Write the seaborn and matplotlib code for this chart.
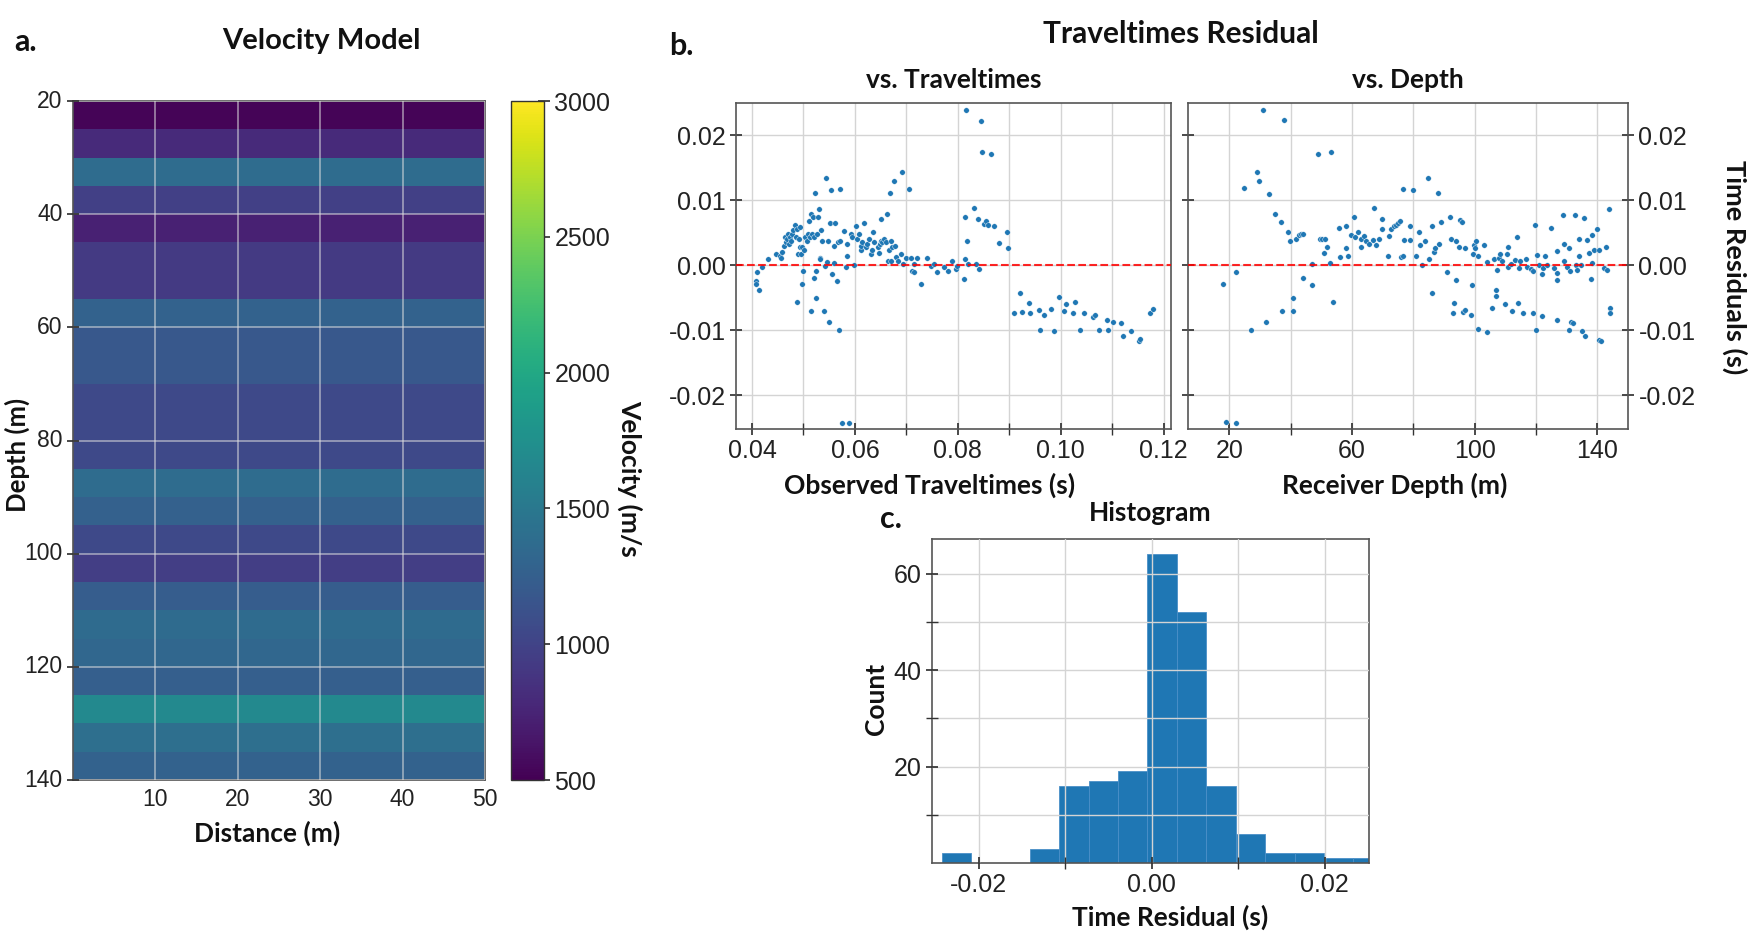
import numpy as np
import pandas as pd
import seaborn as sns
import matplotlib.pyplot as plt
from matplotlib.ticker import MultipleLocator, FixedLocator, FormatStrFormatter

# ---- velocity model: one value per 5 m layer (20-140 m), constant across distance
layer_top = list(range(20, 140, 5))
layer_vel = [520, 800, 1375, 975, 725, 925, 925, 1275, 1175, 1175, 1050, 1050,
             1050, 1375, 1262, 1050, 950, 1225, 1362, 1325, 1250, 1675, 1400, 1275]
dist_cols = [10, 20, 30, 40, 50]

# ---- residuals vs observed traveltimes
tt_obs = [0.0407, 0.0408, 0.0410, 0.0414, 0.0420, 0.0431, 0.0446, 0.0454, 0.0457, 0.0458,
          0.0462, 0.0465, 0.0467, 0.0468, 0.0470, 0.0471, 0.0473, 0.0475, 0.0478, 0.0480,
          0.0483, 0.0485, 0.0488, 0.0488, 0.0489, 0.0491, 0.0493, 0.0494, 0.0496, 0.0497,
          0.0497, 0.0499, 0.0501, 0.0504, 0.0507, 0.0508, 0.0510, 0.0512, 0.0514, 0.0515,
          0.0517, 0.0519, 0.0520, 0.0521, 0.0523, 0.0524, 0.0525, 0.0527, 0.0528, 0.0530,
          0.0532, 0.0533, 0.0534, 0.0536, 0.0540, 0.0542, 0.0544, 0.0546, 0.0548, 0.0549,
          0.0551, 0.0554, 0.0556, 0.0559, 0.0560, 0.0562, 0.0566, 0.0567, 0.0570, 0.0571,
          0.0572, 0.0575, 0.0579, 0.0582, 0.0584, 0.0585, 0.0588, 0.0592, 0.0595, 0.0598,
          0.0603, 0.0605, 0.0608, 0.0611, 0.0612, 0.0614, 0.0618, 0.0621, 0.0624, 0.0627,
          0.0631, 0.0634, 0.0636, 0.0637, 0.0644, 0.0647, 0.0649, 0.0650, 0.0651, 0.0653,
          0.0657, 0.0660, 0.0663, 0.0664, 0.0666, 0.0668, 0.0670, 0.0671, 0.0673, 0.0676,
          0.0677, 0.0679, 0.0683, 0.0689, 0.0692, 0.0694, 0.0699, 0.0705, 0.0708, 0.0710,
          0.0714, 0.0715, 0.0721, 0.0728, 0.0741, 0.0747, 0.0754, 0.0760, 0.0773, 0.0780,
          0.0788, 0.0796, 0.0799, 0.0812, 0.0813, 0.0814, 0.0816, 0.0818, 0.0819, 0.0832,
          0.0835, 0.0840, 0.0842, 0.0844, 0.0847, 0.0851, 0.0855, 0.0858, 0.0864, 0.0871,
          0.0879, 0.0896, 0.0897, 0.0910, 0.0920, 0.0924, 0.0939, 0.0941, 0.0958, 0.0960,
          0.0967, 0.0981, 0.0986, 0.0997, 0.1007, 0.1010, 0.1023, 0.1028, 0.1038, 0.1045,
          0.1062, 0.1066, 0.1075, 0.1090, 0.1092, 0.1101, 0.1116, 0.1121, 0.1136, 0.1151,
          0.1153, 0.1173, 0.1179]
tt_res = [-0.0024, -0.0029, -0.0011, -0.0038, -0.0002, 0.0010, 0.0018, 0.0015, 0.0012, 0.0020,
          0.0030, 0.0043, 0.0036, 0.0041, 0.0049, 0.0033, 0.0043, 0.0038, 0.0048, 0.0054,
          0.0062, 0.0044, 0.0056, -0.0056, 0.0018, 0.0041, 0.0028, 0.0059, 0.0018, -0.0029,
          0.0028, -0.0008, 0.0023, 0.0043, 0.0038, 0.0048, 0.0069, 0.0043, -0.0070, 0.0079,
          0.0049, 0.0074, 0.0043, -0.0019, 0.0111, -0.0050, -0.0008, 0.0049, 0.0074, 0.0087,
          0.0012, 0.0010, 0.0055, 0.0038, -0.0070, -0.0001, 0.0134, 0.0005, 0.0038, -0.0088,
          0.0065, 0.0116, -0.0013, 0.0030, 0.0003, 0.0065, -0.0024, 0.0036, -0.0100, 0.0117,
          0.0038, -0.0243, 0.0053, -0.0003, 0.0015, 0.0033, -0.0242, 0.0048, 0.0043, 0.0001,
          0.0060, 0.0041, 0.0048, 0.0023, 0.0030, 0.0036, 0.0065, 0.0028, 0.0033, 0.0041,
          0.0018, 0.0023, 0.0051, 0.0036, 0.0028, 0.0019, 0.0033, 0.0072, 0.0038, 0.0036,
          0.0041, 0.0036, 0.0079, 0.0007, 0.0023, 0.0111, 0.0038, 0.0007, 0.0028, 0.0130,
          0.0030, 0.0013, 0.0007, 0.0017, 0.0143, 0.0002, 0.0011, 0.0118, 0.0012, -0.0008,
          -0.0011, 0.0002, 0.0012, -0.0028, 0.0012, -0.0001, 0.0002, -0.0011, -0.0003, -0.0008,
          0.0007, -0.0006, -0.0001, -0.0021, 0.0010, 0.0075, 0.0239, 0.0037, 0.0002, 0.0089,
          0.0002, 0.0072, -0.0006, 0.0223, 0.0174, 0.0064, 0.0069, 0.0062, 0.0171, 0.0060,
          0.0034, 0.0051, 0.0027, -0.0074, -0.0042, -0.0072, -0.0058, -0.0073, -0.0068, -0.0099,
          -0.0076, -0.0067, -0.0101, -0.0048, -0.0071, -0.0060, -0.0073, -0.0057, -0.0100, -0.0073,
          -0.0080, -0.0077, -0.0100, -0.0084, -0.0099, -0.0088, -0.0089, -0.0109, -0.0101, -0.0116,
          -0.0114, -0.0073, -0.0067]

# ---- residuals vs receiver depth
rcv_depth = [17.8, 18.9, 22.0, 22.0, 24.9, 26.9, 28.9, 29.8, 30.9, 31.8, 32.9, 34.9, 36.9, 37.0,
             37.9, 39.0, 39.9, 40.7, 40.9, 41.8, 42.7, 43.5, 44.0, 44.0, 46.8, 47.1, 49.0, 49.7,
             50.3, 50.8, 51.2, 51.9, 52.7, 53.0, 53.8, 55.8, 56.0, 57.9, 58.0, 58.8, 59.8, 60.7,
             61.1, 61.9, 62.8, 63.0, 63.9, 64.7, 65.6, 66.7, 67.1, 67.8, 68.9, 69.8, 69.9, 71.8,
             72.2, 72.8, 73.7, 74.3, 75.1, 75.6, 76.0, 76.5, 76.7, 77.0, 78.9, 78.9, 79.8, 80.9,
             81.8, 82.0, 82.8, 83.9, 84.9, 85.0, 86.0, 86.0, 86.8, 87.1, 87.9, 88.5, 89.0, 90.9,
             91.8, 92.2, 92.9, 93.1, 93.8, 94.0, 94.9, 95.1, 95.9, 96.2, 96.9, 97.0, 98.9, 99.2,
             99.4, 99.9, 100.2, 100.5, 101.1, 101.1, 102.9, 104.0, 104.0, 105.8, 106.2, 106.9,
             107.1, 107.3, 107.8, 108.1, 109.0, 110.0, 110.6, 110.8, 111.0, 111.7, 112.2, 113.3,
             113.8, 114.1, 114.3, 114.9, 115.8, 116.7, 117.1, 118.4, 118.9, 119.1, 119.7, 119.9,
             120.4, 121.0, 121.9, 122.0, 122.3, 123.0, 123.7, 125.0, 125.8, 126.7, 126.7, 126.9,
             126.9, 128.9, 129.1, 129.1, 130.2, 130.7, 130.9, 131.1, 131.3, 131.9, 132.8, 133.0,
             133.5, 133.9, 134.1, 134.6, 135.0, 135.7, 136.0, 136.7, 137.3, 137.8, 138.1, 138.1,
             138.9, 140.0, 140.6, 140.7, 141.3, 142.2, 142.7, 143.3, 143.9, 144.2, 144.2]
depth_res = [-0.0028, -0.0241, -0.0011, -0.0243, 0.0119, -0.0100, 0.0144, 0.0130, 0.0239, -0.0088,
             0.0110, 0.0079, 0.0066, -0.0070, 0.0224, 0.0052, 0.0038, -0.0051, -0.0070, 0.0040,
             0.0047, 0.0048, 0.0049, -0.0019, -0.0030, 0.0002, 0.0172, 0.0040, 0.0040, 0.0019,
             0.0040, 0.0028, 0.0003, 0.0174, -0.0057, 0.0058, 0.0013, 0.0060, 0.0027, 0.0015,
             0.0047, 0.0075, 0.0043, 0.0051, 0.0028, 0.0041, 0.0045, 0.0038, 0.0033, 0.0039,
             0.0089, 0.0032, 0.0041, 0.0072, 0.0056, 0.0015, 0.0045, 0.0056, 0.0060, 0.0062,
             0.0065, 0.0068, 0.0013, 0.0118, 0.0014, 0.0039, 0.0039, 0.0061, 0.0116, 0.0014,
             0.0052, 0.0032, 0.0001, 0.0038, 0.0135, 0.0009, 0.0061, -0.0042, 0.0020, 0.0027,
             0.0111, 0.0033, 0.0066, -0.0011, 0.0075, 0.0041, -0.0074, -0.0058, 0.0038, -0.0023,
             0.0029, 0.0070, 0.0066, -0.0072, -0.0069, 0.0027, -0.0077, -0.0031, 0.0017, 0.0032,
             0.0027, 0.0038, -0.0098, 0.0015, 0.0032, -0.0102, 0.0005, -0.0066, 0.0009, -0.0038,
             -0.0047, -0.0007, 0.0012, 0.0017, 0.0006, -0.0060, 0.0017, 0.0029, -0.0003, 0.0002,
             -0.0071, 0.0008, 0.0043, -0.0058, -0.0004, 0.0006, -0.0074, 0.0010, -0.0002, -0.0005,
             -0.0073, -0.0008, 0.0062, -0.0100, 0.0016, 0.0001, -0.0078, -0.0013, -0.0004, 0.0015,
             0.0001, 0.0058, -0.0004, 0.0022, -0.0023, -0.0084, -0.0012, 0.0078, 0.0033, 0.0007,
             -0.0003, 0.0026, -0.0099, -0.0008, -0.0088, -0.0089, 0.0078, 0.0000, -0.0007, 0.0041,
             0.0014, 0.0000, -0.0101, 0.0073, -0.0109, 0.0039, 0.0019, -0.0021, 0.0047, 0.0003,
             0.0024, 0.0056, -0.0115, 0.0024, -0.0117, -0.0004, 0.0028, -0.0007, 0.0087, -0.0066,
             -0.0073]

# ---- histogram of residuals
hist_edges = [-0.0243, -0.0209, -0.0175, -0.0141, -0.0107, -0.0073, -0.0039, -0.0005,
              0.0029, 0.0063, 0.0097, 0.0131, 0.0165, 0.0199, 0.0233, 0.0267]
hist_counts = [2, 0, 0, 3, 16, 17, 19, 64, 52, 16, 6, 2, 2, 1, 1]

sns.set_theme(style="whitegrid", rc={
    "axes.edgecolor": "#555555", "axes.linewidth": 1.2,
    "grid.color": "#d4d4d4", "grid.linewidth": 1.0,
    "xtick.bottom": True, "ytick.left": True,
    "xtick.direction": "inout", "ytick.direction": "inout",
    "xtick.major.size": 8, "ytick.major.size": 8,
    "xtick.minor.size": 8, "ytick.minor.size": 8,
    "xtick.color": "#333333", "ytick.color": "#333333",
    "xtick.labelcolor": "#222222", "ytick.labelcolor": "#222222",
    "xtick.labelsize": 18, "ytick.labelsize": 18,
    "axes.unicode_minus": False,
})
plt.rcParams["font.family"] = ["Liberation Sans", "DejaVu Sans"]

bold = dict(family=["Lato", "DejaVu Sans"], fontweight="bold", color="#111111")
BLUE = "#1f77b4"

fig = plt.figure(figsize=(17.61, 9.34), dpi=100)
ax_v = fig.add_axes([0.04145, 0.16488, 0.23396, 0.72698])
cax = fig.add_axes([0.29018, 0.16488, 0.01874, 0.72698])
ax_t = fig.add_axes([0.41794, 0.54069, 0.24702, 0.34904])
ax_d = fig.add_axes([0.67462, 0.54069, 0.24986, 0.34904], sharey=ax_t)
ax_h = fig.add_axes([0.52924, 0.07602, 0.24815, 0.34690])

# ---- a. velocity model
vel_df = pd.DataFrame(np.repeat(np.array(layer_vel)[:, None], len(dist_cols), axis=1),
                      index=layer_top, columns=dist_cols)
sns.heatmap(vel_df, cmap="viridis", vmin=500, vmax=3000, ax=ax_v, cbar_ax=cax,
            cbar_kws={"ticks": [500, 1000, 1500, 2000, 2500, 3000]})
ax_v.set_xticks(np.arange(1, 6))
ax_v.set_xticklabels([str(d) for d in dist_cols], rotation=0)
ax_v.set_yticks(np.arange(0, 25, 4))
ax_v.set_yticklabels([str(d) for d in range(20, 141, 20)], rotation=0)
ax_v.tick_params(axis="x", length=0, pad=6)
ax_v.tick_params(labelsize=16.5)
ax_v.set_axisbelow(False)
ax_v.grid(True, color="#e0e0e0", alpha=0.6, linewidth=1.2)
for sp in ax_v.spines.values():
    sp.set_visible(True)
    sp.set_color("#555555")
ax_v.set_xlabel("Distance (m)", fontsize=19, labelpad=7, **bold)
ax_v.xaxis.label.set_x(0.471)
ax_v.set_ylabel("Depth (m)", fontsize=18.5, va="center", **bold)
ax_v.yaxis.set_label_coords(-0.135, 0.479)
cbar = ax_v.collections[0].colorbar
cbar.outline.set_linewidth(1.0)
cbar.outline.set_edgecolor("#333333")
cax.grid(False)
cax.tick_params(direction="inout", length=8, labelsize=18)

# ---- b. residual scatter plots
for ax, xs, ys in [(ax_t, tt_obs, tt_res), (ax_d, rcv_depth, depth_res)]:
    sns.scatterplot(x=xs, y=ys, ax=ax, s=16, color=BLUE, edgecolor="white",
                    linewidth=0.3, zorder=3)
    ax.axhline(0, color="red", linestyle="--", linewidth=1.5, alpha=0.85, zorder=4)
    ax.grid(True, which="both")
    ax.tick_params(which="both", direction="inout", length=8)

ax_t.set_xlim(0.0369, 0.1214)
ax_t.set_ylim(-0.0252, 0.0250)
ax_t.xaxis.set_major_locator(MultipleLocator(0.02))
ax_t.xaxis.set_minor_locator(MultipleLocator(0.01))
ax_t.yaxis.set_major_locator(MultipleLocator(0.01))
ax_t.xaxis.set_major_formatter(FormatStrFormatter("%.2f"))
ax_t.yaxis.set_major_formatter(FormatStrFormatter("%.2f"))
ax_t.set_title("vs. Traveltimes", fontsize=19, pad=11, **bold)
ax_t.set_xlabel("Observed Traveltimes (s)", fontsize=19, labelpad=7, **bold)
ax_t.xaxis.label.set_x(0.446)

ax_d.set_xlim(6.5, 150)
ax_d.xaxis.set_major_locator(FixedLocator([20, 60, 100, 140]))
ax_d.xaxis.set_minor_locator(FixedLocator([40, 80, 120]))
ax_d.tick_params(axis="y", left=True, right=True, labelleft=False, labelright=True)
ax_d.set_title("vs. Depth", fontsize=19, pad=11, **bold)
ax_d.set_xlabel("Receiver Depth (m)", fontsize=19, labelpad=7, **bold)
ax_d.xaxis.label.set_x(0.47)

# ---- c. histogram
hist_centers = [(a + b) / 2 for a, b in zip(hist_edges[:-1], hist_edges[1:])]
sns.histplot(x=hist_centers, weights=hist_counts, bins=hist_edges, ax=ax_h,
             color=BLUE, alpha=1, edgecolor="#4a8fc8", linewidth=0.6, zorder=2)
ax_h.set_axisbelow(False)
ax_h.set_xlim(-0.0254, 0.0251)
ax_h.set_ylim(0, 67.2)
ax_h.xaxis.set_major_locator(FixedLocator([-0.02, 0.0, 0.02]))
ax_h.xaxis.set_minor_locator(FixedLocator([-0.01, 0.01]))
ax_h.yaxis.set_major_locator(FixedLocator([20, 40, 60]))
ax_h.yaxis.set_minor_locator(FixedLocator([10, 30, 50]))
ax_h.xaxis.set_major_formatter(FormatStrFormatter("%.2f"))
ax_h.grid(True, which="both", zorder=3)
ax_h.tick_params(which="both", direction="inout", length=8)
ax_h.set_title("Histogram", fontsize=19, pad=13, **bold)
ax_h.set_xlabel("Time Residual (s)", fontsize=19, labelpad=5, **bold)
ax_h.xaxis.label.set_x(0.545)
ax_h.set_ylabel("Count", fontsize=19, va="center", **bold)
ax_h.yaxis.set_label_coords(-0.128, 0.506)

# ---- figure-level text
fig.text(0.008, 0.9454, "a.", fontsize=22, ha="left", va="baseline", **bold)
fig.text(0.1823, 0.9475, "Velocity Model", fontsize=21, ha="center", va="baseline", **bold)
fig.text(0.3799, 0.9411, "b.", fontsize=22, ha="left", va="baseline", **bold)
fig.text(0.6706, 0.9540, "Traveltimes Residual", fontsize=21.5, ha="center", va="baseline", **bold)
fig.text(0.4997, 0.4347, "c.", fontsize=22, ha="left", va="baseline", **bold)
fig.text(0.3577, 0.4882, "Velocity (m/s", fontsize=19, rotation=270,
         ha="center", va="center", **bold)
fig.text(0.9852, 0.7141, "Time Residuals (s)", fontsize=19.5, rotation=270,
         ha="center", va="center", **bold)

fig.savefig("out.png", dpi=100)
